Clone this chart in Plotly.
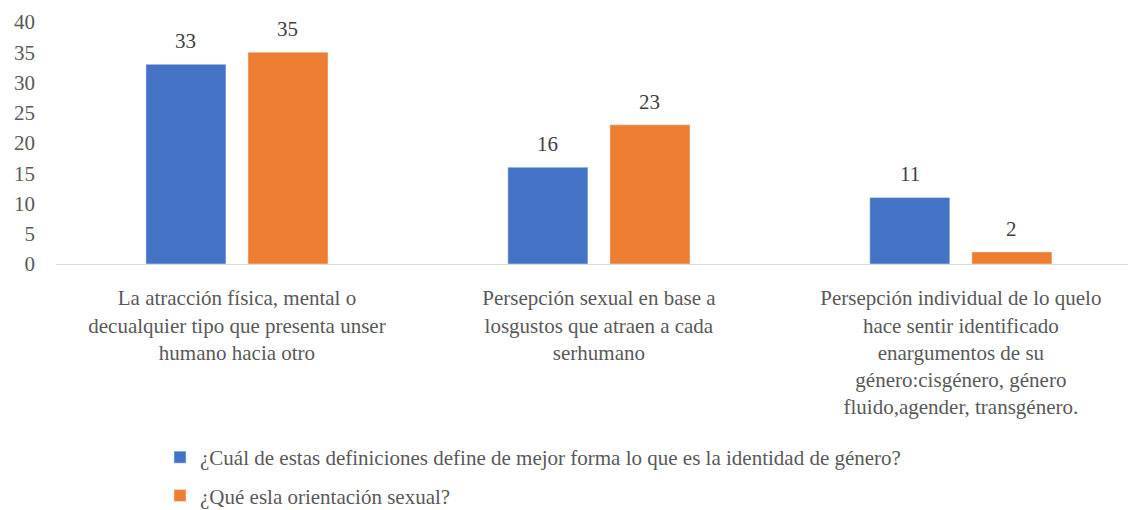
import plotly.graph_objects as go

categories = [
    "La atracción física, mental o<br>decualquier tipo que presenta unser<br>humano hacia otro",
    "Persepción sexual en base a<br>losgustos que atraen a cada<br>serhumano",
    "Persepción individual de lo quelo<br>hace sentir identificado<br>enargumentos de su<br>género:cisgénero, género<br>fluido,agender, transgénero.",
]
series_names = [
    "¿Cuál de estas definiciones define de mejor forma lo que es la identidad de género?",
    "¿Qué esla orientación sexual?",
]
identidad = [33, 16, 11]
orientacion = [35, 23, 2]
colors = ["#4472C4", "#ED7D31"]
y_ticks = [0, 5, 10, 15, 20, 25, 30, 35, 40]

FONT = "Times New Roman, Liberation Serif, DejaVu Serif, serif"
FS = 21
fig = go.Figure()
for i, (name, vals) in enumerate(zip(series_names, [identidad, orientacion])):
    fig.add_trace(go.Bar(
        x=categories, y=vals, name=name, marker_color=colors[i],
        legendgroup=f"g{i}",
    ))
    for c, v in zip(categories, vals):
        fig.add_annotation(
            x=c, y=v, text=str(v), showarrow=False, xref="x", yref="y",
            xshift=(-51 if i == 0 else 51), yshift=9, yanchor="bottom",
            font=dict(family=FONT, size=FS, color="#404040"),
        )

fig.update_layout(
    width=1136, height=510,
    margin=dict(l=48, r=0, t=14, b=254, autoexpand=False),
    plot_bgcolor="white", paper_bgcolor="white",
    barmode="group", bargap=0.436, bargroupgap=0.216,
    font=dict(family=FONT, size=FS, color="#595959"),
    showlegend=True,
    legend=dict(
        orientation="v", x=0.0956, xanchor="left", y=-0.715, yanchor="top",
        traceorder="grouped", tracegroupgap=8,
        font=dict(family=FONT, size=FS, color="#595959"),
    ),
)
fig.update_xaxes(
    range=[-0.5, 2.506], automargin=False,
    showgrid=False, showline=True, linecolor="#d9d9d9", linewidth=1,
    ticks="", ticklabelstandoff=15,
    tickfont=dict(family=FONT, size=FS, color="#595959"),
)
fig.update_yaxes(
    range=[0, 40], tickvals=y_ticks, showgrid=False, zeroline=False,
    automargin=False,
    showline=False, ticks="", ticklabelstandoff=20,
    tickfont=dict(family=FONT, size=FS, color="#595959"),
)
fig.write_html("out.html")
